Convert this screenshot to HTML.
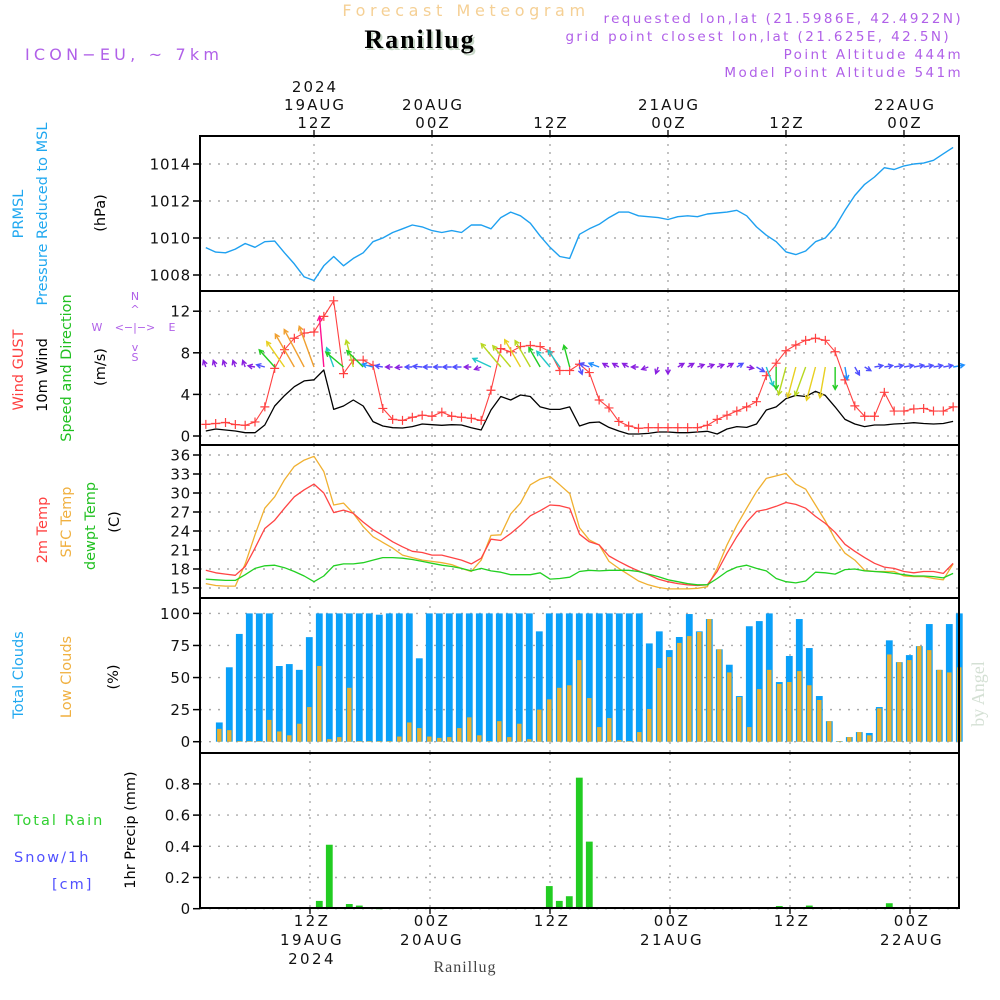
<!DOCTYPE html>
<html><head><meta charset="utf-8"><title>Meteogram Ranillug</title>
<style>
html,body{margin:0;padding:0;background:#fff;}
svg{display:block;font-family:"DejaVu Sans","Liberation Sans",sans-serif;}
</style></head>
<body>
<svg id="chart" width="1000" height="1000" viewBox="0 0 1000 1000" xmlns="http://www.w3.org/2000/svg">
<rect x="0" y="0" width="1000" height="1000" fill="#fff"/>
<!-- header -->
<text x="466" y="16" text-anchor="middle" font-size="16" letter-spacing="4.6" fill="#f5d095">Forecast Meteogram</text>
<text x="420" y="48" text-anchor="middle" font-size="26" font-weight="bold" letter-spacing="2" font-family="Liberation Serif,serif" fill="#c8d8c8" transform="translate(2,2)">Ranillug</text>
<text x="420" y="48" text-anchor="middle" font-size="26" font-weight="bold" letter-spacing="2" font-family="Liberation Serif,serif" fill="#000">Ranillug</text>
<text x="25" y="60" font-size="16" letter-spacing="4.2" fill="#b060e8">ICON−EU, ~ 7km</text>
<g font-size="13.5" letter-spacing="2.4" fill="#b060e8" text-anchor="end">
<text x="963" y="23">requested lon,lat (21.5986E, 42.4922N)</text>
<text x="951" y="41">grid point closest lon,lat (21.625E, 42.5N)</text>
<text x="963" y="59">Point Altitude 444m</text>
<text x="963" y="77">Model Point Altitude 541m</text>
</g>
<!-- left labels -->
<g font-size="14.5" text-anchor="middle">
<text transform="translate(23,214) rotate(-90)" fill="#20a8f0">PRMSL</text>
<text transform="translate(47,214) rotate(-90)" fill="#20a8f0">Pressure Reduced to MSL</text>
<text transform="translate(105,213) rotate(-90)" fill="#000">(hPa)</text>
<text transform="translate(23,370) rotate(-90)" fill="#ff4040">Wind GUST</text>
<text transform="translate(47,375) rotate(-90)" fill="#000">10m Wind</text>
<text transform="translate(71,368) rotate(-90)" fill="#20c020">Speed and Direction</text>
<text transform="translate(105,367) rotate(-90)" fill="#000">(m/s)</text>
<text transform="translate(47,530) rotate(-90)" fill="#ff4040">2m Temp</text>
<text transform="translate(71,522) rotate(-90)" fill="#f0b040">SFC Temp</text>
<text transform="translate(95,526) rotate(-90)" fill="#20c020">dewpt Temp</text>
<text transform="translate(119,522) rotate(-90)" fill="#000">(C)</text>
<text transform="translate(23,675) rotate(-90)" fill="#20a8f0">Total Clouds</text>
<text transform="translate(71,677) rotate(-90)" fill="#f0b040">Low Clouds</text>
<text transform="translate(118,677) rotate(-90)" fill="#000">(%)</text>
<text transform="translate(135,830) rotate(-90)" fill="#000">1hr Precip (mm)</text>
</g>
<g font-size="14.5" letter-spacing="2">
<text x="14" y="825" fill="#30d030">Total   Rain</text>
<text x="14" y="862" fill="#5050ff">Snow/1h</text>
<text x="52" y="889" fill="#5050ff">[cm]</text>
</g>
<g font-size="11" fill="#b060e8" text-anchor="middle">
<text x="135" y="300">N</text>
<text x="135" y="361">S</text>
<text x="97" y="331">W</text>
<text x="172" y="331">E</text>
<text x="135" y="331">&lt;−|−&gt;</text>
<text x="135" y="313">^</text>
<text x="135" y="351">v</text>
</g>
<text transform="translate(984,694) rotate(-90)" font-size="18" font-family="Liberation Serif,serif" fill="#d4e0d4" text-anchor="middle">by Angel</text>
<text x="465" y="972" font-size="16" letter-spacing="1" font-family="Liberation Serif,serif" fill="#444" text-anchor="middle">Ranillug</text>
<g id="g"></g>
</svg>
<script>
// ---- data (hourly, h = 1..77, hour 0 = 00Z 19AUG2024) ----
const pressure = [1009.48,1009.24,1009.2,1009.4,1009.7,1009.5,1009.8,1009.83,1009.2,1008.6,1007.9,1007.7,1008.5,1009.0,1008.5,1008.9,1009.2,1009.8,1010.0,1010.3,1010.5,1010.7,1010.6,1010.4,1010.3,1010.4,1010.3,1010.7,1010.7,1010.5,1011.1,1011.4,1011.2,1010.8,1010.1,1009.5,1009.0,1008.9,1010.2,1010.5,
1010.74,1011.1,1011.4,1011.4,1011.2,1011.15,1011.1,1011.0,1011.15,1011.2,1011.15,1011.3,1011.35,1011.4,1011.5,1011.2,1010.6,1010.15,1009.8,1009.25,1009.1,1009.3,1009.8,1010.0,1010.6,1011.5,1012.3,1012.9,1013.3,1013.8,1013.7,1013.9,1014.0,1014.05,1014.2,1014.55,1014.9];
const wind10 = [0.48,0.67,0.58,0.48,0.32,0.32,1.06,2.88,3.88,4.74,5.3,5.4,6.35,2.56,2.88,3.46,2.88,1.38,0.96,0.8,0.77,0.9,1.15,1.09,1.03,1.09,1.06,0.8,0.58,2.5,3.8,3.46,3.94,3.8,2.8,2.56,2.56,2.8,0.96,1.28,
1.35,0.83,0.48,0.19,0.19,0.25,0.38,0.38,0.32,0.32,0.38,0.45,0.19,0.67,0.9,0.83,1.15,2.5,2.8,3.6,3.9,3.8,4.3,3.9,2.8,1.6,1.15,0.9,1.06,1.06,1.15,1.2,1.28,1.2,1.15,1.2,1.4];
const gust = [1.12,1.2,1.3,1.1,1.03,1.35,2.8,6.5,8.3,9.4,9.9,10.0,11.5,13.0,6.0,7.3,7.3,6.8,2.65,1.6,1.5,1.8,2.0,1.9,2.3,1.9,1.8,1.7,1.5,4.4,8.4,8.1,8.6,8.7,8.6,8.1,6.3,6.3,6.9,6.1,
3.46,2.7,1.4,0.96,0.74,0.8,0.8,0.8,0.8,0.8,0.8,1.03,1.6,2.0,2.4,2.8,3.3,5.8,7.0,8.2,8.75,9.2,9.4,9.2,8.1,5.4,2.9,1.9,1.9,4.2,2.4,2.4,2.6,2.65,2.4,2.4,2.8];
const windDir = [340,340,340,340,340,280,285,318,325,330,332,340,355,340,310,345,315,285,280,270,265,270,275,270,270,270,270,270,250,295,320,320,330,330,330,320,325,345,160,290,
290,300,300,300,270,250,200,180,60,60,70,70,70,60,60,100,120,160,180,195,195,200,195,190,180,170,150,120,80,80,80,80,80,80,80,80,80];
const temp2m = [17.8,17.4,17.2,17.0,18.4,21.3,24.4,25.7,27.6,29.4,30.5,31.4,30.0,26.9,27.3,26.8,25.4,24.2,23.3,22.3,21.5,20.8,20.6,20.2,20.2,19.8,19.4,18.8,19.7,22.7,22.5,23.6,24.9,26.4,27.2,28.1,28.0,27.6,23.5,22.3,
21.8,20.05,19.2,18.4,17.7,17.1,16.4,16.0,15.7,15.5,15.4,15.5,17.6,20.5,23.1,25.4,27.1,27.4,27.9,28.5,28.2,27.6,26.3,25.2,23.8,21.9,20.8,19.8,18.9,18.3,18.1,17.6,17.4,17.6,17.6,17.3,18.9];
const tempSfc = [15.7,15.4,15.3,15.3,18.8,23.4,27.6,29.4,32.1,34.2,35.2,35.8,33.4,28.1,28.4,26.8,24.7,23.1,22.2,21.3,20.2,19.8,19.4,19.2,19.0,18.7,18.1,17.6,19.4,23.3,23.4,26.7,28.4,31.3,32.2,32.6,31.3,29.9,24.5,22.6,
21.8,19.2,18.1,17.1,16.1,15.5,15.1,14.85,14.85,14.85,14.95,15.2,18.1,21.8,24.9,27.6,30.2,32.3,32.7,33.1,31.4,30.6,28.1,25.6,22.7,20.5,19.4,17.8,17.6,17.6,17.6,16.9,16.8,16.8,16.5,16.3,18.8];
const dewpoint = [16.4,16.3,16.2,16.2,17.1,18.1,18.5,18.6,18.2,17.6,16.9,16.0,16.9,18.5,18.8,18.8,19.0,19.4,19.8,19.8,19.7,19.5,19.2,18.9,18.6,18.4,18.1,17.7,18.1,17.7,17.5,17.1,17.1,17.1,17.4,16.4,16.5,16.7,17.6,17.8,
17.7,17.8,17.8,17.8,17.6,17.2,16.8,16.3,16.0,15.7,15.5,15.5,16.5,17.6,18.3,18.6,18.1,17.7,16.5,16.0,15.8,16.1,17.5,17.4,17.2,17.9,18.0,17.7,17.6,17.5,17.3,17.1,16.9,16.9,16.8,16.6,17.3];
const totalClouds = [0,0,15,58,84,100,100,100,59,60.5,56,81.5,100,100,100,100,100,100,99,100,100,100,65,100,100,100,100,100,100,100,100,100,100,100,86,100,100,100,100,100,
100,100,100,100,100,76.6,86,71.4,81.6,99.5,86,95.6,72,60,35.6,90,94,100,46.5,66.8,95.6,73,35.6,16,0.5,3.6,7.5,6.8,27,79,62,67.5,74.5,91.7,56,91.7,100];
const lowClouds = [0,0,10,9,0.5,0.5,0.5,17,8,5,14,27,59,2,3.6,42,0.5,0.5,0.5,0.5,4,15,10.6,4,3,3.6,10.6,19,5,0.5,16,3.6,14,2,25,33,42,44,63.6,34,
11.4,18.4,1.3,0.5,7.5,25.5,57.4,66,77,82.3,85.5,95.6,72,54,34.8,11.4,41,56,45,46.5,55,44,32.5,16,0.5,3.6,7.5,5,26,68,62,63.6,74.5,71.4,56,54,58];
const precip = [0,0,0,0,0,0,0,0,0,0,0.01,0,0.05,0.41,0,0.03,0.02,0,0.003,0,0,0,0,0,0,0,0,0,0,0,0,0,0,0,0.005,0.145,0.05,0.08,0.84,0.43,
0,0,0,0,0,0,0,0,0,0,0,0,0,0,0,0,0,0,0.017,0,0,0.02,0,0,0,0,0,0,0,0.035,0,0,0,0,0,0,0];
const pTicks = [1008,1010,1012,1014];
const wTicks = [0,4,8,12];
const tTicks = [15,18,21,24,27,30,33,36];
const cTicks = [0,25,50,75,100];
const rTicks = [0,0.2,0.4,0.6,0.8];
const rTickLabels = ["0","0.2","0.4","0.6","0.8"];
const gridHours = [12,24,36,48,60,72];
const topLabels = [["2024","19AUG","12Z"],["","20AUG","00Z"],["","","12Z"],["","21AUG","00Z"],["","","12Z"],["","22AUG","00Z"]];
const botLabels = [["12Z","19AUG","2024"],["00Z","20AUG",""],["12Z","",""],["00Z","21AUG",""],["12Z","",""],["00Z","22AUG",""]];

// ---- scales ----
const X0=200, X1=959;
const xU = h => 314 + (h-12)*9.833;
const xL = h => 310 + (h-12)*10;
const yP = p => 164 + (1014-p)*18.5;
const yW = v => 436 - v*10.4;
const yT = t => 455 + (36-t)*6.333;
const yC = c => 741.7 - c*1.283;
const yR = r => 908.7 - r*156;
const panels = [[136,291],[291,445],[445,598],[598,753],[753,908]];

const NS="http://www.w3.org/2000/svg";
const G=document.getElementById('g');
function mk(tag, attrs, parent){const e=document.createElementNS(NS,tag);for(const k in attrs)e.setAttribute(k,attrs[k]);(parent||G).appendChild(e);return e;}

panels.forEach((pn,i)=>{
  const grid = mk('g',{});
  
  
  gridHours.forEach(h=>{
    const x = i<3 ? xU(h) : xL(h);
    const l = mk('line',{x1:x,x2:x,y1:pn[0],y2:pn[1],stroke:'#aaa','stroke-width':1.4,'stroke-dasharray':'2,6'},grid);
    
    
  });
});
function hgrid(ticks, yf, labels, name){
  const g = mk('g',{});
  
  
  ticks.forEach((t,i)=>{
    const y=yf(t);
    const l=mk('line',{x1:X0,x2:X1,y1:y,y2:y,stroke:'#aaa','stroke-width':1.4,'stroke-dasharray':'2,7'},g);
    
    
    const tk=mk('line',{x1:193,x2:X0,y1:y,y2:y,stroke:'#000','stroke-width':1.5},g);
    
    
    const tx=mk('text',{x:191,y:y+5.5,'text-anchor':'end','font-size':15,fill:'#111','letter-spacing':0.8},g);
    tx.textContent = labels ? labels[i] : String(t);
    
    
  });
}
hgrid(pTicks,yP,null,'pressure-y-axis');
hgrid(wTicks,yW,null,'wind-y-axis');
hgrid(tTicks,yT,null,'temp-y-axis');
hgrid(cTicks,yC,null,'cloud-y-axis');
hgrid(rTicks,yR,rTickLabels,'precip-y-axis');

const cg=mk('g',{});


totalClouds.forEach((c,i)=>{
  const h=i+1, x=xL(h)-0.7;
  if(c>0){
    const r=mk('rect',{x:x-3.4,y:yC(c),width:6.8,height:yC(0)-yC(c),fill:'#0aa0f8'},cg);
    
    
  }
  const lc=lowClouds[i];
  if(lc>0){
    const r2=mk('rect',{x:x-2.2,y:yC(lc),width:4.4,height:yC(0)-yC(lc),fill:'#e8b030'},cg);
    
    
  }
});
const rg=mk('g',{});


precip.forEach((r,i)=>{
  if(r<=0) return;
  const x=xL(i+1)-0.7;
  const b=mk('rect',{x:x-3.4,y:yR(r),width:6.8,height:Math.max(1,yR(0)-yR(r)),fill:'#22cc22'},rg);
  
  
});

function line(arr,yf,color,name,w){
  const d=arr.map((v,i)=>(i?'L':'M')+xU(i+1).toFixed(1)+','+yf(v).toFixed(1)).join('');
  const p=mk('path',{d:d,fill:'none',stroke:color,'stroke-width':w||1.3,'stroke-linejoin':'round'});
  
  
  return p;
}
line(pressure,yP,'#1ea0f0','pressure-line',1.4);
line(wind10,yW,'#000','wind-speed-line',1.3);
line(gust,yW,'#ff4040','gust-line',1.1);
const gm=mk('g',{});


gust.forEach((v,i)=>{
  const x=xU(i+1), y=yW(v);
  const p=mk('path',{d:`M${x-4.5},${y}H${x+4.5}M${x},${y-4.5}V${y+4.5}`,stroke:'#ff4040','stroke-width':1.2},gm);
  
  
});
function spdColor(s){
  if(s<0.9) return '#8a20e0';
  if(s<1.3) return '#5050ff';
  if(s<2) return '#2090ff';
  if(s<2.6) return '#20c8c8';
  if(s<3.3) return '#22cc22';
  if(s<3.85) return '#b8d820';
  if(s<4.4) return '#e8d020';
  if(s<5.8) return '#f0a030';
  return '#ff1090';
}
const ag=mk('g',{});


windDir.forEach((d,i)=>{
  const s=wind10[i], L=Math.max(7,8*s), a=d*Math.PI/180;
  const x0=xU(i+1), y0=367;
  const x1=x0+L*Math.sin(a), y1=y0-L*Math.cos(a);
  const hl=5, b1=a+Math.PI-0.5, b2=a+Math.PI+0.5;
  const c=spdColor(s);
  const p=mk('path',{d:`M${x0},${y0}L${x1},${y1}M${x1+hl*Math.sin(b1)},${y1-hl*Math.cos(b1)}L${x1},${y1}L${x1+hl*Math.sin(b2)},${y1-hl*Math.cos(b2)}`,fill:'none',stroke:c,'stroke-width':1.4},ag);
  
  
});
line(tempSfc,yT,'#f0b030','sfc-temp-line',1.3);
line(temp2m,yT,'#ff4444','temp-2m-line',1.3);
line(dewpoint,yT,'#22d022','dewpoint-line',1.3);

panels.forEach((pn,i)=>{
  const r=mk('rect',{x:X0,y:pn[0],width:X1-X0,height:pn[1]-pn[0],fill:'none',stroke:'#000','stroke-width':2});
  
  
});
const ta=mk('g',{'font-size':15,fill:'#111','text-anchor':'middle','letter-spacing':2});


gridHours.forEach((h,i)=>{
  const x=xU(h);
  const tk=mk('line',{x1:x,x2:x,y1:130,y2:136,stroke:'#000','stroke-width':1.3},ta);
  
  
  topLabels[i].forEach((s,j)=>{ if(!s) return;
    const t=mk('text',{x:x+1,y:92+j*18},ta); t.textContent=s;
    
    
  });
});
const ba=mk('g',{'font-size':15,fill:'#111','text-anchor':'middle','letter-spacing':2.4});


gridHours.forEach((h,i)=>{
  const x=xL(h);
  const tk=mk('line',{x1:x,x2:x,y1:908,y2:914,stroke:'#000','stroke-width':1.3},ba);
  
  
  botLabels[i].forEach((s,j)=>{ if(!s) return;
    const t=mk('text',{x:x+2,y:926+j*19},ba); t.textContent=s;
    
    
  });
});
</script>
</body></html>
